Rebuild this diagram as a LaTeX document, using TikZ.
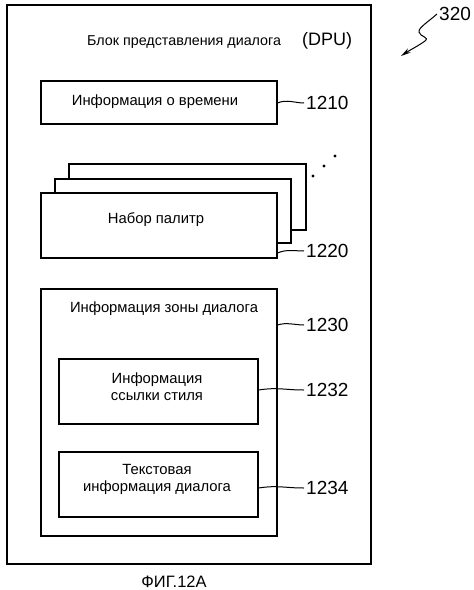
\documentclass[tikz,border=0pt]{standalone}
\usepackage{fontspec}
\setmainfont{Liberation Sans}
\usetikzlibrary{arrows.meta}
\begin{document}
\begin{tikzpicture}[x=1pt,y=-1pt,
  box/.style={draw, line width=1.5pt, fill=white, rectangle, inner sep=0pt, anchor=north west},
  txt/.style={font=\fontsize{14.8}{17}\selectfont, align=center, inner sep=0pt},
  num/.style={font=\fontsize{19}{22}\selectfont, anchor=west, inner sep=2pt},
  lead/.style={line width=1pt},
  dot/.style={circle, fill=black, inner sep=0pt, minimum size=3.4pt}]
\useasboundingbox (0,0) rectangle (474,590);
% outer DPU box
\node[box, line width=2pt, minimum width=364pt, minimum height=559pt] (dpu) at (6,4) {};
\node[txt, anchor=west, font=\fontsize{14.3}{17}\selectfont] (dputitle) at (87,42) {Блок представления диалога};
\node[font=\fontsize{18}{20}\selectfont, anchor=west, inner sep=0pt] (dpuabbr) at (302,41) {(DPU)};
% 320 reference
\node[num] (l320) at (437,14) {320};
\coordinate (a320) at (401,56);
\draw[line width=1pt, -{Stealth[length=10pt,width=5pt]}] (l320.west) .. controls (428,22) and (418,28) .. (419,32) .. controls (420,37) and (430,37) .. (425,41) .. controls (418,46) and (410,50) .. (a320);
% 1210
\node[box, minimum width=236pt, minimum height=43pt] (b1210) at (40,80) {};
\node[txt] (t1210) at (155,102) {Информация о времени};
\node[num] (l1210) at (304,103) {1210};
\draw[lead] (b1210.east |- l1210.west) .. controls +(9,-4) and +(-9,0) .. (l1210.west);
% palette stack
\node[box, minimum width=237pt, minimum height=66pt] (p3) at (68,163) {};
\node[box, minimum width=236pt, minimum height=64pt] (p2) at (54,178) {};
\node[box, minimum width=236pt, minimum height=65pt] (p1) at (40,192) {};
\node[txt] (t1220) at (156,220) {Набор палитр};
\node[dot] (d1) at (313,176) {};
\node[dot] (d2) at (324,166) {};
\node[dot] (d3) at (335,156) {};
\node[num] (l1220) at (304,251) {1220};
\draw[lead] (p1.east |- 0,253) .. controls +(9,-4) and +(-9,0) .. (l1220.west);
% 1230
\node[box, minimum width=236pt, minimum height=247pt] (b1230) at (40,288) {};
\node[txt] (t1230) at (164,309) {Информация зоны диалога};
\node[num] (l1230) at (304,325) {1230};
\draw[lead] (b1230.east |- l1230.west) .. controls +(9,-3) and +(-9,0) .. (l1230.west);
% 1232
\node[box, minimum width=199pt, minimum height=65pt] (b1232) at (58,358) {};
\node[txt] (t1232) at (157,387) {Информация\\ссылки стиля};
\node[num] (l1232) at (304,390) {1232};
\draw[lead] (b1232.east |- l1232.west) .. controls +(20,-3) and +(-20,0) .. (l1232.west);
% 1234
\node[box, minimum width=199pt, minimum height=65pt] (b1234) at (58,451) {};
\node[txt] (t1234) at (157,479) {Текстовая\\информация диалога};
\node[num] (l1234) at (304,488) {1234};
\draw[lead] (b1234.east |- l1234.west) .. controls +(20,-3) and +(-20,0) .. (l1234.west);
% caption
\node[font=\fontsize{16.5}{19}\selectfont, inner sep=0pt] (cap) at (174,582) {ФИГ.12А};
\end{tikzpicture}
\end{document}
